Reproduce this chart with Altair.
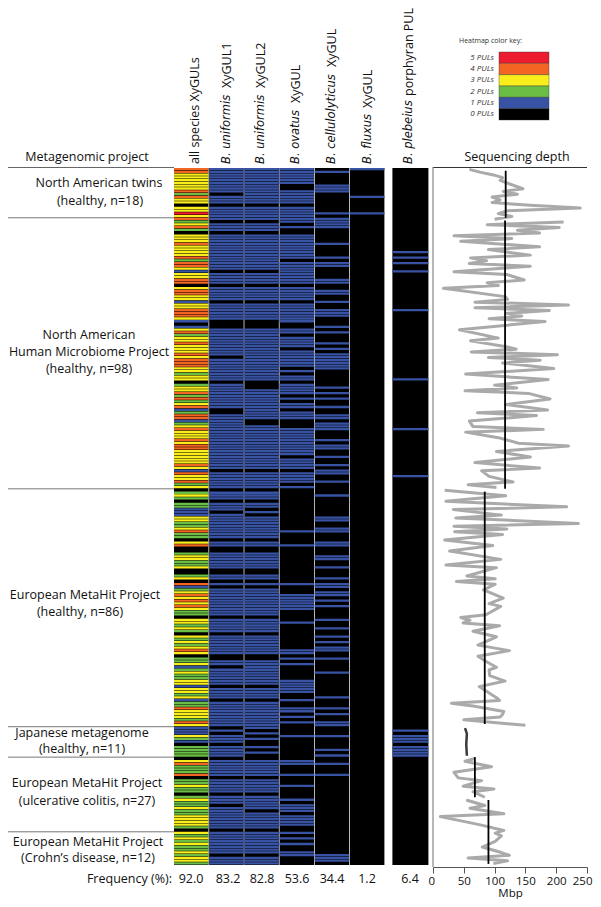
import altair as alt
import pandas as pd

N_ROWS = 252
FONT = "Open Sans"

# Project groups: first row of each later group
group_breaks = [18, 116, 202, 213, 240]

# Heatmap: rows without / with each PUL
uni1_absent = [9,13,19,23,37,42,48,55,56,57,68,77,87,88,109,116,120,124,134,137,138,145,146,149,151,162,168,176,177,180,187,192,202,204,208,213,220,226,230,239,248]
uni2_absent = [13,19,23,37,42,48,55,56,57,77,78,79,91,92,109,116,120,123,125,134,137,138,145,146,149,151,162,168,176,177,187,192,203,205,207,208,210,212,213,220,226,232,239,248]
ovatus_absent_head = [6,7,13,20,22,23,33,42,48,56,57,60,65,72,74,77,82,84,87,91,92,93,104,109,114]
ovatus_present_tail = [131,136,150,154,155,156,157,158,159,164,174,175,177,179,185,186,187,188,189,192,195,196,198,200,205,214,215,219,223,228,230,231,232,234,235,236,237,240,242,244,247,248]
cellu_present = [1,6,7,8,16,18,19,20,21,27,32,34,35,40,41,44,45,48,51,52,53,57,59,63,65,67,68,69,70,71,72,79,81,83,86,89,90,92,93,94,98,100,101,104,107,109,110,113,118,126,127,130,131,135,136,140,141,144,148,150,151,153,154,156,158,163,166,169,171,173,174,177,182,191,195,197,200,201,205,210,212,215,219,248,249,250]
fluxus_present = [0,10,16]
plebeius_present = [30,32,34,37,51,76,94,111,203,205,206,207,209,210,211,212]

all_rows = range(N_ROWS)
uni1 = [0 if r in uni1_absent else 1 for r in all_rows]
uni2 = [0 if r in uni2_absent else 1 for r in all_rows]
ovatus = [(0 if r in ovatus_absent_head else 1) if r < 116 else (1 if r in ovatus_present_tail else 0) for r in all_rows]
cellu = [1 if r in cellu_present else 0 for r in all_rows]
fluxus = [1 if r in fluxus_present else 0 for r in all_rows]
plebeius = [1 if r in plebeius_present else 0 for r in all_rows]
all_species = [a + b + c + d + e for a, b, c, d, e in zip(uni1, uni2, ovatus, cellu, fluxus)]

columns = ["all", "uni1", "uni2", "ovatus", "cellu", "fluxus"]
col_values = dict(all=all_species, uni1=uni1, uni2=uni2, ovatus=ovatus, cellu=cellu, fluxus=fluxus)

frequency_labels = ["92.0", "83.2", "82.8", "53.6", "34.4", "1.2", "6.4"]
frequency_centers = [191, 228, 262, 297, 332, 367, 410]

# Sequencing depth (sample row, Mbp)
depth_rows = [0,1,2,3,4,7,8,9,10,11,12,13,14,15,16,17,18,
 19,20,21,22,23,24,25,26,28,29,31,32,33,34,35,37,38,40,41,42,43,46,47,48,49,50,51,52,53,54,55,58,61,62,64,65,66,67,68,69,70,72,74,76,78,79,80,81,83,85,87,88,89,91,93,94,95,97,99,100,102,104,106,108,109,111,113,114,115,
 116,118,120,122,123,125,126,128,129,130,131,132,134,136,138,141,143,144,147,148,149,150,152,155,157,158,161,162,163,164,165,167,169,172,174,176,178,180,181,183,185,187,191,192,193,194,196,197,198,199,201,
 202,204,208,212,
 213,214,216,218,220,221,223,224,225,227,
 228,230,231,233,234,237,239,240,241,243,245,247,248,249,250,251]
depth_mbp = [59,76,98,113,109,146,114,137,96,109,96,158,239,120,106,128,100,
 212,88,205,137,173,34,128,45,173,90,158,61,87,59,158,34,120,148,88,106,17,117,121,68,220,68,189,120,144,91,182,43,106,61,117,135,62,202,90,174,113,196,53,187,100,136,52,155,190,118,186,72,168,59,65,179,53,106,139,220,103,158,68,173,79,91,130,57,103,
 19,118,21,217,33,111,37,236,34,120,35,113,19,97,27,110,21,103,55,101,38,101,82,114,91,110,86,45,60,49,108,65,103,73,124,73,87,103,91,92,117,75,103,108,30,65,115,113,109,50,150,
 52,55,54,55,
 68,52,95,34,41,79,49,99,65,84,
 54,84,60,115,12,77,115,101,111,101,80,111,124,57,121,98]
depth_segments = [(0,18),(19,115),(116,201),(202,212),(213,227),(228,251)]

# Mean depth per group: value, first row, last row
mean_values = [118, 117, 84, 68, 90]
mean_start = [1, 19, 117, 213, 228.5]
mean_end = [18, 116, 201, 227.5, 251.6]

key_values = [5, 4, 3, 2, 1, 0]
key_labels = ["5 PULs", "4 PULs", "3 PULs", "2 PULs", "1 PULs", "0 PULs"]
key_colors = ["#ed1c2e", "#f26522", "#f9ed1c", "#6abd45", "#3953a4", "#000000"]

# ---------- tables ----------
heat = pd.DataFrame([
    dict(col=c, row=r, top=r, bottom=r + 0.82, v=col_values[c][r])
    for c in columns for r in all_rows if col_values[c][r] > 0])
heat_bg = pd.DataFrame(dict(col=columns, top=0, bottom=N_ROWS))
pleb = pd.DataFrame([dict(col="plebeius", top=r, bottom=r + 0.82, v=1) for r in all_rows if plebeius[r]])
pleb_bg = pd.DataFrame(dict(col=["plebeius"], top=[0], bottom=[N_ROWS]))

def seg_of(r):
    for i, (a, b) in enumerate(depth_segments):
        if a <= r <= b:
            return i
depth = pd.DataFrame(dict(row=depth_rows, mbp=depth_mbp))
depth["seg"] = [seg_of(r) for r in depth_rows]
depth["y"] = depth["row"] + 0.5
means = pd.DataFrame(dict(m=mean_values, a=mean_start, b=mean_end))
breaks = pd.DataFrame(dict(b=group_breaks))
key = pd.DataFrame(dict(v=key_values, label=key_labels))

# ---------- scales ----------
TOP, BOTTOM = 160, 857
y_scale = alt.Scale(domain=[0, N_ROWS], range=[TOP, BOTTOM], nice=False, zero=False)
Y = alt.Y("top:Q", scale=y_scale, axis=None)
Y2 = alt.Y2("bottom:Q")
x6 = alt.X("col:N", scale=alt.Scale(domain=columns, range=[166, 376.4], paddingInner=0.02, paddingOuter=0), axis=None)
xp = alt.X("col:N", scale=alt.Scale(domain=["plebeius"], range=[384.4, 420.4], paddingInner=0, paddingOuter=0), axis=None)
color = alt.Color("v:O", scale=alt.Scale(domain=key_values, range=key_colors), legend=None)
x_depth_scale = alt.Scale(domain=[0, 250], range=[425, 579], nice=False, zero=False)

layers = []
layers.append(alt.Chart(heat_bg).mark_rect(color="#000000").encode(x=x6, y=Y, y2=Y2))
layers.append(alt.Chart(heat).mark_rect().encode(x=x6, y=Y, y2=Y2, color=color))
layers.append(alt.Chart(pleb_bg).mark_rect(color="#000000").encode(x=xp, y=Y, y2=Y2))
layers.append(alt.Chart(pleb).mark_rect().encode(x=xp, y=Y, y2=Y2, color=color))

# group separators and header line
layers.append(alt.Chart(breaks).mark_rule(color="#777777", strokeWidth=1).encode(
    x=alt.value(0), x2=alt.value(166), y=alt.Y("b:Q", scale=y_scale, axis=None)))
layers.append(alt.Chart(breaks.head(1)).mark_rule(color="#666666", strokeWidth=1).encode(
    x=alt.value(0), x2=alt.value(166), y=alt.value(159.5)))
layers.append(alt.Chart(breaks.head(1)).mark_rule(color="#333333", strokeWidth=1).encode(
    x=alt.value(425), x2=alt.value(579), y=alt.value(159.5)))
layers.append(alt.Chart(breaks.head(1)).mark_rule(color="#888888", strokeWidth=1.2).encode(
    x=alt.value(425), y=alt.value(159), y2=alt.value(859)))

# depth lines
others = depth[depth.seg != 3]
japan = depth[depth.seg == 3]
for d, c, w in ((others, "#aaaaaa", 3), (japan, "#3a3a3a", 2.5)):
    layers.append(alt.Chart(d).mark_line(color=c, strokeWidth=w, strokeJoin="round").encode(
        x=alt.X("mbp:Q", scale=x_depth_scale, axis=None),
        y=alt.Y("y:Q", scale=y_scale, axis=None),
        detail="seg:N",
        order="row:Q"))
layers.append(alt.Chart(means).mark_rule(color="#000000", strokeWidth=1.8).encode(
    x=alt.X("m:Q", scale=x_depth_scale, axis=None),
    y=alt.Y("a:Q", scale=y_scale, axis=None), y2="b:Q"))

# axis layer
layers.append(alt.Chart(depth.head(1)).mark_point(opacity=0).encode(
    x=alt.X("mbp:Q", scale=x_depth_scale, title="Mbp",
            axis=alt.Axis(values=[0, 50, 100, 150, 200, 250], grid=False, domainColor="#555555",
                          tickColor="#555555", tickSize=6, labelFontSize=11.5, labelFont=FONT,
                          labelColor="#111111", titleFont=FONT, titleFontSize=11.5, labelFlush=True, labelFlushOffset=5,
                          titleFontWeight="normal", titleColor="#111111", labelPadding=2, titlePadding=1, format="d")),
))

# colour key
key_y = alt.Y("v:O", scale=alt.Scale(domain=key_values, range=[44, 112], paddingInner=0, paddingOuter=0), axis=None)
layers.append(alt.Chart(key).mark_rect(stroke="#333333", strokeWidth=0.4).encode(
    x=alt.value(491), x2=alt.value(541), y=key_y, color=color))
layers.append(alt.Chart(key).mark_text(align="right", fontStyle="italic", fontSize=8, font=FONT, color="#333333").encode(
    x=alt.value(486), y=key_y, text="label:N"))

def txt(s, px, py, size=12.5, angle=0, align="center", style="normal", color="#111111", font=FONT):
    return alt.Chart(key.head(1)).mark_text(
        text=s, angle=angle, align=align, baseline="middle", fontSize=size,
        fontStyle=style, font=font, color=color).encode(x=alt.value(px - 8), y=alt.value(py - 8))

layers.append(txt("Heatmap color key:", 459, 41, size=7, align="left", color="#333333"))

for s, px, py in [
    ("Metagenomic project", 87, 157),
    ("North American twins", 99, 183), ("(healthy, n=18)", 100, 201),
    ("North American", 89, 335), ("Human Microbiome Project", 89, 352), ("(healthy, n=98)", 89, 369),
    ("European MetaHit Project", 85, 595), ("(healthy, n=86)", 80, 612),
    ("Japanese metagenome", 82, 733), ("(healthy, n=11)", 82, 749),
    ("European MetaHit Project", 87, 783), ("(ulcerative colitis, n=27)", 87, 801),
    ("European MetaHit Project", 88, 842), ("(Crohn\u2019s disease, n=12)", 88, 858),
    ("Sequencing depth", 517, 157),
]:
    layers.append(txt(s, px, py))

layers.append(txt("Frequency (%):", 172, 879, align="right"))
for s, px in zip(frequency_labels, frequency_centers):
    layers.append(txt(s, px, 879))

BASE = 164
headers = [
    (195, None, "all species XyGULs", 0),
    (227, "B. uniformis", "XyGUL1", 76),
    (261, "B. uniformis", "XyGUL2", 76),
    (296, "B. ovatus", "XyGUL", 61),
    (332, "B. cellulolyticus", "XyGUL", 97),
    (368, "B. fluxus", "XyGUL", 56),
    (409, "B. plebeius", "porphyran PUL", 68),
]
for px, ital, rest, off in headers:
    if ital:
        layers.append(txt(ital, px, BASE, size=11.5, angle=270, align="left", style="italic", font="DejaVu Sans"))
    layers.append(txt(rest, px, BASE - off, angle=270, align="left"))

chart = alt.layer(*layers).resolve_scale(x="independent", y="independent").properties(
    width=585, height=859,
    padding={"left": 0, "top": 0, "right": 0, "bottom": 32},
    autosize=alt.AutoSizeParams(type="none"),
).configure_view(stroke=None)

chart.save("out.html", embed_options={"renderer": "svg", "actions": False})
